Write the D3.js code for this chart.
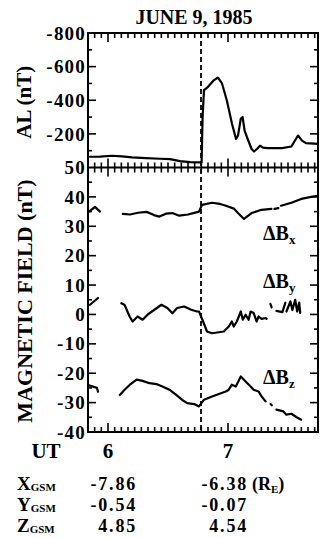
<!DOCTYPE html>
<html>
<head>
<meta charset="utf-8">
<script src="https://cdn.jsdelivr.net/npm/d3@7"></script>
<style>
  html, body { margin: 0; padding: 0; background: #fff; }
  svg { display: block; font-family: "Liberation Serif", "Times New Roman", serif; font-weight: bold; }
</style>
</head>
<body>
<svg id="chart" width="324" height="538"></svg>
<script>
// June 9, 1985 — AL index and magnetic field perturbations (GSM)
// Time is in minutes of UT (360 = 06:00).

const title = 'JUNE 9, 1985';
const timeDomain = [350, 465];
const hourTicks = [360, 420];
const hourLabels = ['6', '7'];
const onsetTime = 406.5;

const alTicks = [-800, -600, -400, -200];
const bTicks = [50, 40, 30, 20, 10, 0, -10, -20, -30, -40];

// AL (nT), one continuous trace
const alSeries = [
  [[351, -64], [356, -65], [362, -70], [367, -66], [372, -60], [379, -56], [386, -52], [391, -50],
   [396, -38], [401, -32], [406, -30], [406.8, -30], [407.3, -300], [408, -460], [410, -480],
   [413, -520], [415, -535], [417, -500], [419.4, -400], [422, -260], [424, -170], [425, -190],
   [426.4, -290], [427.3, -300], [428.3, -220], [429.5, -180], [431.8, -110], [433, -95],
   [434.5, -110], [436, -130], [437.5, -118], [440, -115], [447, -115], [451.7, -125],
   [455, -190], [457, -160], [459, -145], [465, -140]]
];

// Delta Bx (nT), pieces with data gaps
const bxSeries = [
  [[350.5, 35], [353.5, 36.6], [356, 35]],
  [[367.4, 34.2], [371, 34], [375, 34.6], [379.3, 34.9], [383, 33.8], [385.7, 33.3], [389, 34.3],
   [392.2, 34.5], [395.6, 33.6], [400, 34], [405.5, 35], [407, 37.3], [412, 38], [416, 37.6],
   [419, 37], [423, 36], [425, 34.5], [428, 32.5], [431.8, 34.5], [436.8, 35.6], [441.7, 35.9]],
  [[443.2, 35.9], [445.2, 36.2]],
  [[446.5, 37], [451.7, 38], [456.6, 39.3], [461.6, 40], [465, 40.4]]
];

// Delta By (nT)
const bySeries = [
  [[351, 3.3], [355, 5.6]],
  [[366.7, 3.8], [368.3, 3.2], [370.8, -0.7], [372.3, -2.4], [374.8, -0.7], [377.3, -1.8],
   [379.8, -0.1], [383.2, 1.6], [386.7, 3.3], [389.7, 2.2], [392.2, 0.4], [394.6, 2.2],
   [398.1, 2.7], [401.6, 1.6], [404.5, 1.0], [405.5, 1.0], [407.2, -1.8], [409.5, -5.8],
   [412, -6.4], [417.9, -5.8], [420.4, -4.1], [421.9, -2.4], [422.9, -4.1], [424.4, -2.4],
   [426.4, 1.0], [427.4, -1.8], [428.8, -0.1], [430.3, -1.8], [431.3, 1.0], [432.8, 0.5],
   [434.3, -2.4], [435.3, -0.7], [436.8, -1.5], [438.8, -1.2], [439.3, -1.5]],
  [[441.2, 3.6], [441.8, 2.4]],
  [[444.2, 1.2], [447.2, 0.8], [448.7, 4.0]],
  [[449.2, 1.0], [451.2, 4.4], [452.2, 1.5], [453.6, 5.0], [454.6, 1.0], [455.6, 4.0], [456.1, 0.5]]
];

// Delta Bz (nT)
const bzSeries = [
  [[350, -24], [354.5, -25], [355, -26.3]],
  [[365.9, -27.4], [368.3, -25.6], [370.8, -24], [374.3, -22.2], [377.3, -22.6], [380.7, -23.4],
   [384.2, -23.7], [387.2, -24.5], [390.7, -25.6], [394.1, -27.4], [397.1, -29.1], [399.6, -30.2],
   [403.1, -30.5], [405.5, -31.3], [408, -29], [412, -27.9], [416.5, -26.8], [418.9, -26.2],
   [420.4, -25.6], [421.9, -23.9], [423.9, -24.5], [426.4, -21.1], [428.8, -22.8], [431.3, -24.5],
   [432.8, -25.6], [435.3, -26.2], [436.8, -27.9], [438.8, -29.6]],
  [[441.3, -30.5], [441.9, -30.9]],
  [[444.2, -32.4], [447.7, -33], [449.2, -34.1], [451.7, -33.8], [454.1, -34.9], [456.6, -35.8]]
];

// label anchor values (nT) for the three components
const seriesLabels = [
  { sub: 'x', value: 25.5 },
  { sub: 'y', value: 9 },
  { sub: 'z', value: -23.5 }
];

// spacecraft position rows: coordinate, value at 6 UT, value at 7 UT
const gsmNames = ['X', 'Y', 'Z'];
const gsmAt6 = ['-7.86', '-0.54', '4.85'];
const gsmAt7 = ['-6.38', '-0.07', '4.54'];

// ─── Layout ───────────────────────────────────────────────────────────────
const L = 88, R = 318;
const topAL = 33, mid = 167.5, bottom = 432;

const svg = d3.select('#chart');

const x = d3.scaleLinear().domain(timeDomain).range([L, R]);
const yAL = d3.scaleLinear().domain([0, -800]).range([mid, topAL]);
const yB = d3.scaleLinear().domain([-40, 50]).range([bottom, mid]);

const line = (y) => d3.line().x(d => x(d[0])).y(d => y(d[1]));

// ─── Title ────────────────────────────────────────────────────────────────
svg.append('text')
  .attr('x', 194).attr('y', 24)
  .attr('text-anchor', 'middle')
  .attr('font-size', 20)
  .text(title);

// ─── Ticks ────────────────────────────────────────────────────────────────
const gTicks = svg.append('g').attr('stroke', '#000').attr('stroke-width', 1.6);

const minorTimes = d3.range(0, 35).map(i => timeDomain[0] + i * 10 / 3)
  .filter(t => t > timeDomain[0] + 0.5 && t < timeDomain[1] - 0.5);
const timeLen = t => hourTicks.some(h => Math.abs(h - t) < 0.01) ? 9 : 5;

function timeTicks(yPos, dir) {
  gTicks.selectAll(null).data(minorTimes).join('line')
    .attr('x1', d => x(d)).attr('x2', d => x(d))
    .attr('y1', yPos).attr('y2', d => yPos + dir * timeLen(d));
}
timeTicks(topAL, 1);
timeTicks(mid, -1);
timeTicks(mid, 1);
timeTicks(bottom, -1);

function valueTicks(scale, values, majorStep) {
  const len = v => Math.abs(v % majorStep) < 0.01 ? 8 : 4;
  gTicks.selectAll(null).data(values).join('line')
    .attr('x1', L).attr('x2', v => L + len(v))
    .attr('y1', v => scale(v)).attr('y2', v => scale(v));
  gTicks.selectAll(null).data(values).join('line')
    .attr('x1', R).attr('x2', v => R - len(v))
    .attr('y1', v => scale(v)).attr('y2', v => scale(v));
}
valueTicks(yAL, d3.range(-700, 0, 100), 200);
valueTicks(yB, d3.range(-35, 50, 5), 10);

// ─── Frames ───────────────────────────────────────────────────────────────
svg.append('rect')
  .attr('x', L).attr('y', topAL).attr('width', R - L).attr('height', bottom - topAL)
  .attr('fill', 'none').attr('stroke', '#000').attr('stroke-width', 2);
svg.append('line')
  .attr('x1', L).attr('x2', R).attr('y1', mid).attr('y2', mid)
  .attr('stroke', '#000').attr('stroke-width', 2);

// ─── Onset line ───────────────────────────────────────────────────────────
svg.append('line')
  .attr('x1', x(onsetTime)).attr('x2', x(onsetTime))
  .attr('y1', topAL).attr('y2', bottom)
  .attr('stroke', '#000').attr('stroke-width', 1.8)
  .attr('stroke-dasharray', '5,3');

// ─── Traces ───────────────────────────────────────────────────────────────
const gLines = svg.append('g')
  .attr('fill', 'none').attr('stroke', '#000')
  .attr('stroke-width', 2.2).attr('stroke-linejoin', 'round').attr('stroke-linecap', 'round');

gLines.selectAll(null).data(alSeries).join('path').attr('d', line(yAL));
[bxSeries, bySeries, bzSeries].forEach(s => {
  gLines.selectAll(null).data(s).join('path').attr('d', line(yB));
});

// ─── Axis labels ──────────────────────────────────────────────────────────
const tickFont = 19;
svg.selectAll(null).data(alTicks).join('text')
  .attr('x', L - 2).attr('y', d => yAL(d)).attr('dy', '0.35em')
  .attr('text-anchor', 'end').attr('font-size', tickFont).attr('letter-spacing', 1.2)
  .text(d => d);
svg.selectAll(null).data(bTicks).join('text')
  .attr('x', L - 2).attr('y', d => yB(d)).attr('dy', '0.35em')
  .attr('text-anchor', 'end').attr('font-size', tickFont).attr('letter-spacing', 1.2)
  .text(d => d);

svg.append('text')
  .attr('transform', `translate(31,${(topAL + mid) / 2 + 2}) rotate(-90)`)
  .attr('text-anchor', 'middle').attr('font-size', 21)
  .text('AL (nT)');
svg.append('text')
  .attr('transform', 'translate(32,301) rotate(-90)')
  .attr('text-anchor', 'middle').attr('font-size', 22)
  .text('MAGNETIC FIELD (nT)');

// component labels
seriesLabels.forEach(s => {
  const t = svg.append('text').attr('x', 263).attr('y', yB(s.value)).attr('font-size', 20);
  t.append('tspan').text('ΔB');
  t.append('tspan').attr('font-size', 13).attr('dy', 4).text(s.sub);
});

// time axis labels
svg.append('text').attr('x', 46).attr('y', 458).attr('text-anchor', 'middle')
  .attr('font-size', 21).text('UT');
svg.selectAll(null).data(hourTicks).join('text')
  .attr('x', d => x(d)).attr('y', 458).attr('text-anchor', 'middle')
  .attr('font-size', 21)
  .text((d, i) => hourLabels[i]);

// ─── GSM positions ────────────────────────────────────────────────────────
const rowY = [490, 511, 532];
const rowFont = 18;
gsmNames.forEach((n, i) => {
  const t = svg.append('text').attr('x', 17).attr('y', rowY[i]).attr('font-size', rowFont + 1);
  t.append('tspan').text(n);
  t.append('tspan').attr('font-size', 11).attr('dy', 1).text('GSM');

  svg.append('text').attr('x', 137).attr('y', rowY[i]).attr('text-anchor', 'end')
    .attr('font-size', rowFont).attr('letter-spacing', 1.8).text(gsmAt6[i]);
  svg.append('text').attr('x', 248).attr('y', rowY[i]).attr('text-anchor', 'end')
    .attr('font-size', rowFont).attr('letter-spacing', 1.8).text(gsmAt7[i]);
});
const re = svg.append('text').attr('x', 252).attr('y', rowY[0]).attr('font-size', rowFont);
re.append('tspan').text('(R');
re.append('tspan').attr('font-size', 11).attr('dy', 3).text('E');
re.append('tspan').attr('dy', -3).text(')');
</script>
</body>
</html>
